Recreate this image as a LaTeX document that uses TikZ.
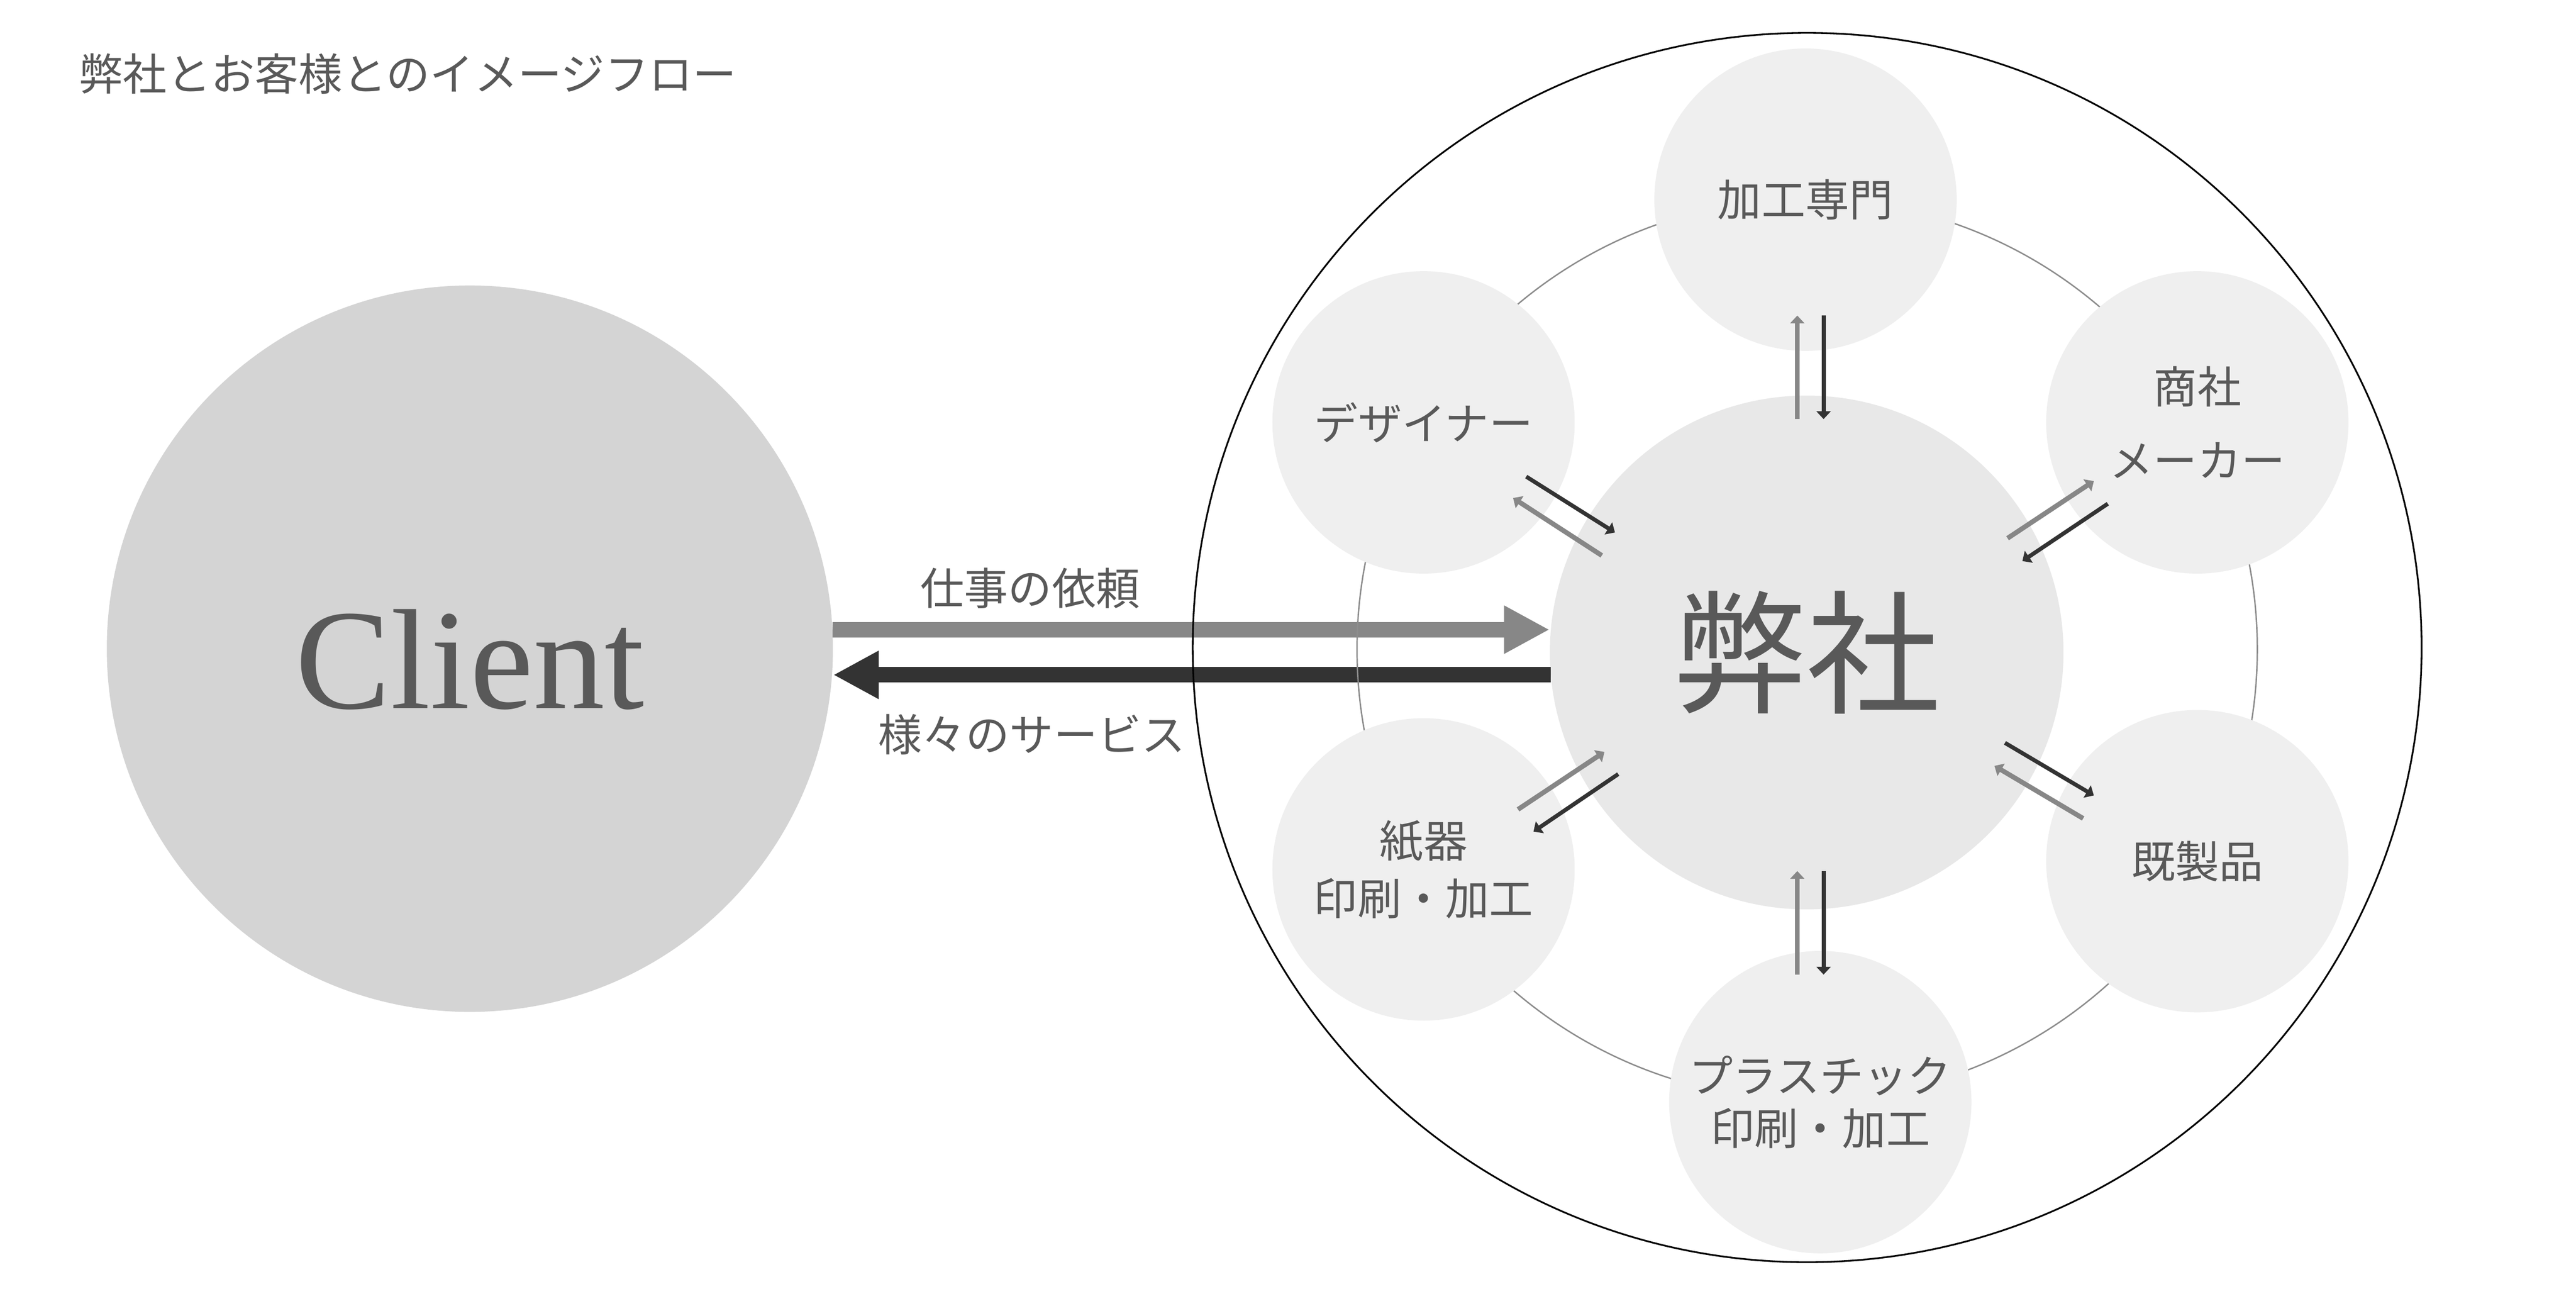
\documentclass[tikz,border=0pt]{standalone}
\usepackage{fontspec}
\setmainfont{Liberation Serif}
\newfontfamily\jpfont{Noto Sans CJK JP}
\usetikzlibrary{arrows.meta,calc}
\definecolor{txt}{HTML}{595959}
\definecolor{clientfill}{HTML}{D4D4D4}
\definecolor{hubfill}{HTML}{E8E8E8}
\definecolor{satfill}{HTML}{EFEFEF}
\definecolor{ringgray}{HTML}{8C8C8C}
\definecolor{arrgray}{HTML}{878787}
\definecolor{arrdark}{HTML}{333333}
\begin{document}
\begin{tikzpicture}[x=0.0372cm,y=-0.0372cm,
  jp/.style={font=\jpfont\fontsize{28.3pt}{34pt}\selectfont, text=txt, inner sep=0pt},
  sat/.style={circle, fill=satfill, minimum size=6.845cm, inner sep=0pt, align=center, text=txt, font=\jpfont\fontsize{28.3pt}{36.5pt}\selectfont},
  bigout/.style={line width=9.95pt, arrgray, -{Triangle[length=29.3pt,width=29pt]}},
  bigin/.style={line width=9.95pt, arrdark, -{Triangle[length=29.3pt,width=29pt]}},
  smallg/.style={line width=3.1pt, arrgray, -{Triangle[length=5pt,width=9pt]}},
  smalld/.style={line width=2.6pt, arrdark, -{Triangle[length=5pt,width=9pt]}}
]
\path[use as bounding box, fill=white] (0,0) rectangle (1568,784.14);

% title
\node[jp, anchor=west] (title) at (48,45) {弊社とお客様とのイメージフロー};

% client and hub
\node[circle, fill=clientfill, minimum size=16.442cm, inner sep=0pt, text=txt,
      font=\fontsize{92pt}{96pt}\selectfont, text height=76.8pt, text depth=0pt] (client) at (286,394.7) {Client};
\node[circle, fill=hubfill, minimum size=11.63cm, inner sep=0pt, text=txt,
      font=\jpfont\fontsize{86pt}{86pt}\selectfont] (hub) at (1099.7,397) {弊社};

% big arrows
\draw[bigout] (client.3.6) -- (client.3.6 -| hub.west);
\draw[bigin] (hub.185.5) -- (hub.185.5 -| client.east);
\node[jp] (req) at (627,358) {仕事の依頼};
\node[jp] (svc) at (628,447) {様々のサービス};

% outer circle and ring
\node[circle, draw=black, line width=1.1pt, minimum size=27.826cm, inner sep=0pt] (outer) at (1100,394) {};
\node[circle, draw=ringgray, line width=0.9pt, minimum size=20.386cm, inner sep=0pt] (ring) at (1100,395) {};

% satellites
\node[sat] (kako) at (1099,121.5) {加工専門};
\node[sat, font=\jpfont\fontsize{28.3pt}{47.6pt}\selectfont] (shosha) at (1337.5,257) {商社\\メーカー};
\node[sat] (kisei) at (1337.5,524) {既製品};
\node[sat, font=\jpfont\fontsize{28.3pt}{34pt}\selectfont] (plastic) at (1108,670.6) {プラスチック\\印刷・加工};
\node[sat, font=\jpfont\fontsize{28.3pt}{37pt}\selectfont] (shiki) at (866.5,529) {紙器\\印刷・加工};
\node[sat] (designer) at (866.5,257) {デザイナー};

% small arrow end points
\coordinate (tg1) at (1094,255);   \coordinate (tg2) at (1094,192);
\coordinate (td1) at (1110,192);   \coordinate (td2) at (1110,255);
\coordinate (bg1) at (1094,593);   \coordinate (bg2) at (1094,530);
\coordinate (bd1) at (1110,530);   \coordinate (bd2) at (1110,593);
\coordinate (uld1) at (929,290);   \coordinate (uld2) at (983,324);
\coordinate (ulg1) at (975,338);   \coordinate (ulg2) at (921,303);
\coordinate (urg1) at (1222,327.5); \coordinate (urg2) at (1274.5,292.7);
\coordinate (urd1) at (1283,306.5); \coordinate (urd2) at (1231,341.4);
\coordinate (llg1) at (924,492.5); \coordinate (llg2) at (976.6,457.5);
\coordinate (lld1) at (985,471);   \coordinate (lld2) at (933.4,506);
\coordinate (lrd1) at (1220.4,452); \coordinate (lrd2) at (1274.5,484);
\coordinate (lrg1) at (1268,498);  \coordinate (lrg2) at (1214,466);

% small arrows
\draw[smallg] (tg1) -- (tg2);
\draw[smalld] (td1) -- (td2);
\draw[smallg] (bg1) -- (bg2);
\draw[smalld] (bd1) -- (bd2);
\draw[smalld] (uld1) -- (uld2);
\draw[smallg] (ulg1) -- (ulg2);
\draw[smallg] (urg1) -- (urg2);
\draw[smalld] (urd1) -- (urd2);
\draw[smallg] (llg1) -- (llg2);
\draw[smalld] (lld1) -- (lld2);
\draw[smalld] (lrd1) -- (lrd2);
\draw[smallg] (lrg1) -- (lrg2);
\end{tikzpicture}
\end{document}
